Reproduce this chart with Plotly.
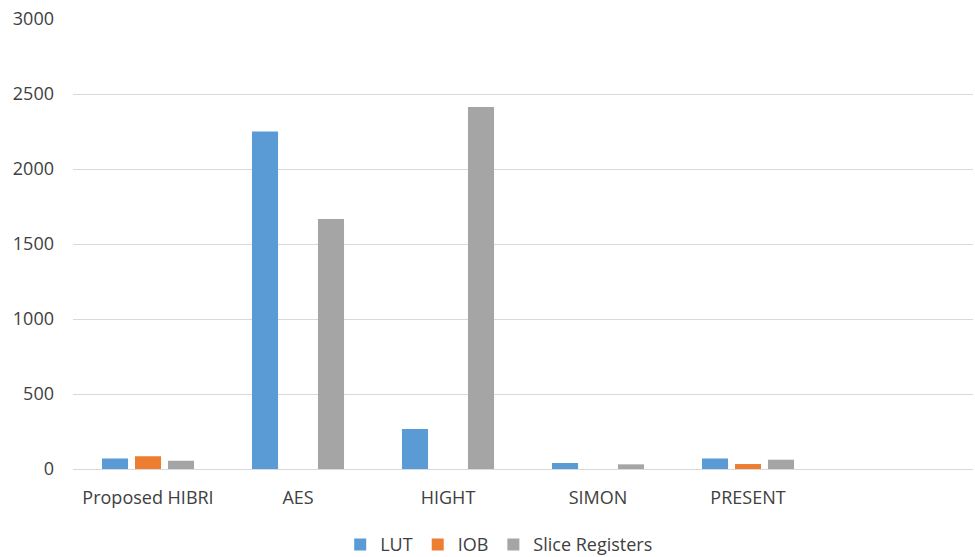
import plotly.graph_objects as go

categories = ["Proposed HIBRI", "AES", "HIGHT", "SIMON", "PRESENT"]
lut = [70, 2250, 267, 40, 70]
iob = [85, 0, 0, 0, 33]
slice_registers = [55, 1667, 2413, 31, 62]
y_ticks = [0, 500, 1000, 1500, 2000, 2500, 3000]

x_pos = list(range(len(categories)))
font_family = "Open Sans, Liberation Sans, sans-serif"
text_color = "#404040"
grid_color = "#D9D9D9"

fig = go.Figure()
for name, vals, color in [
    ("LUT", lut, "#5B9BD5"),
    ("IOB", iob, "#ED7D31"),
    ("Slice Registers", slice_registers, "#A5A5A5"),
]:
    fig.add_trace(go.Bar(x=x_pos, y=vals, name=name, marker=dict(color=color, line=dict(width=0))))

fig.update_layout(
    width=975,
    height=557,
    barmode="group",
    bargap=0.34,
    bargroupgap=0.21,
    plot_bgcolor="white",
    paper_bgcolor="white",
    margin=dict(l=73, r=2, t=19, b=88, autoexpand=False),
    font=dict(family=font_family, size=18, color=text_color),
    showlegend=True,
    legend=dict(
        orientation="h",
        xref="container",
        yref="container",
        x=0.512,
        xanchor="center",
        y=0.022,
        yanchor="middle",
        font=dict(size=18, color=text_color),
        itemwidth=30,
        traceorder="normal",
    ),
    xaxis=dict(
        range=[-0.5, 5.5],
        tickmode="array",
        tickvals=x_pos,
        ticktext=categories,
        tickangle=0,
        automargin=False,
        showgrid=False,
        showline=False,
        zeroline=False,
        ticks="",
        ticklabelstandoff=16,
        fixedrange=True,
    ),
    yaxis=dict(
        range=[0, 3000],
        tickmode="array",
        tickvals=y_ticks,
        automargin=False,
        showgrid=True,
        gridcolor=grid_color,
        gridwidth=1,
        zeroline=True,
        zerolinecolor=grid_color,
        zerolinewidth=1,
        showline=False,
        ticks="",
        ticklabelstandoff=18,
        fixedrange=True,
    ),
)

fig.write_html("out.html")
